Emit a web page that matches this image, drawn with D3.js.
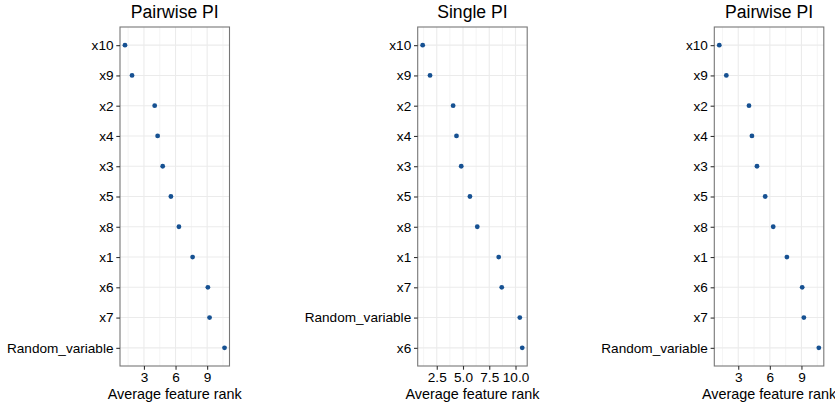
<!DOCTYPE html>
<html>
<head>
<meta charset="utf-8">
<script src="https://cdn.jsdelivr.net/npm/d3@7"></script>
<style>
  body { margin: 0; background: #fff; }
  svg { font-family: "Liberation Sans", Arial, sans-serif; }
</style>
</head>
<body>
<svg id="chart" width="835" height="406"></svg>
<script>
// data
var pairwiseFeatures = ["x10", "x9", "x2", "x4", "x3", "x5", "x8", "x1", "x6", "x7", "Random_variable"];
var pairwiseRank = [1.2, 1.87, 4.02, 4.3, 4.78, 5.56, 6.32, 7.62, 9.07, 9.23, 10.65];
var pairwiseTicks = [3, 6, 9];

var singleFeatures = ["x10", "x9", "x2", "x4", "x3", "x5", "x8", "x1", "x7", "Random_variable", "x6"];
var singleRank = [1.16, 1.86, 4.06, 4.38, 4.83, 5.66, 6.36, 8.4, 8.69, 10.41, 10.64];
var singleTicks = [2.5, 5, 7.5, 10];

var svg = d3.select("#chart");

// panel layout
var panelTop = 27, panelBottom = 366, panelW = 109.5;

function drawPanel(left, title, features, ranks, ticks, fmt) {
    var g = svg.append("g").attr("transform", `translate(${left},0)`);

    // ggplot style 5% expansion
    var ext = d3.extent(ranks);
    var pad = (ext[1] - ext[0]) * 0.05;
    var x = d3.scaleLinear()
        .domain([ext[0] - pad, ext[1] + pad])
        .range([0, panelW]);

    var y = d3.scalePoint()
        .domain(features)
        .range([panelTop, panelBottom])
        .padding(0.6);

    // minor grid
    var step = ticks[1] - ticks[0];
    var minor = ticks.map(t => t - step / 2);
    minor.push(ticks[ticks.length - 1] + step / 2);
    minor = minor.filter(m => m > x.domain()[0] && m < x.domain()[1]);

    g.selectAll(".minor")
        .data(minor)
        .enter()
        .append("line")
        .attr("x1", d => x(d)).attr("x2", d => x(d))
        .attr("y1", panelTop).attr("y2", panelBottom)
        .attr("stroke", "#ebebeb")
        .attr("stroke-width", 0.55);

    // major grid
    g.selectAll(".vmajor")
        .data(ticks)
        .enter()
        .append("line")
        .attr("x1", d => x(d)).attr("x2", d => x(d))
        .attr("y1", panelTop).attr("y2", panelBottom)
        .attr("stroke", "#ebebeb")
        .attr("stroke-width", 1.1);

    g.selectAll(".hmajor")
        .data(features)
        .enter()
        .append("line")
        .attr("x1", 0).attr("x2", panelW)
        .attr("y1", d => y(d)).attr("y2", d => y(d))
        .attr("stroke", "#ebebeb")
        .attr("stroke-width", 1.1);

    // points
    g.selectAll("circle")
        .data(features)
        .enter()
        .append("circle")
        .attr("cx", (d, i) => x(ranks[i]))
        .attr("cy", d => y(d))
        .attr("r", 2.4)
        .attr("fill", "#165192");

    // border
    g.append("rect")
        .attr("x", 0).attr("y", panelTop)
        .attr("width", panelW).attr("height", panelBottom - panelTop)
        .attr("fill", "none")
        .attr("stroke", "#777")
        .attr("stroke-width", 1.1);

    // axes
    var xAxis = d3.axisBottom(x).tickValues(ticks).tickFormat(fmt).tickSize(3.7).tickPadding(2.5);
    var xg = g.append("g")
        .attr("transform", `translate(0,${panelBottom})`)
        .call(xAxis);
    xg.select(".domain").remove();

    var yAxis = d3.axisLeft(y).tickSize(3.7).tickPadding(2.8);
    var yg = g.append("g").call(yAxis);
    yg.select(".domain").remove();

    [xg, yg].forEach(a => {
        a.selectAll(".tick line").attr("stroke", "#333").attr("stroke-width", 1.1);
        a.selectAll("text")
            .style("font-size", "13.6px")
            .style("font-family", "Liberation Sans, Arial, sans-serif")
            .attr("fill", "#000");
    });

    // title and axis label
    g.append("text")
        .attr("x", panelW / 2)
        .attr("y", 17.5)
        .attr("text-anchor", "middle")
        .style("font-size", "17.6px")
        .attr("fill", "#000")
        .text(title);

    g.append("text")
        .attr("x", panelW / 2)
        .attr("y", 398.5)
        .attr("text-anchor", "middle")
        .style("font-size", "14.4px")
        .attr("fill", "#000")
        .text("Average feature rank");
}

drawPanel(120, "Pairwise PI", pairwiseFeatures, pairwiseRank, pairwiseTicks, d3.format("d"));
drawPanel(417.7, "Single PI", singleFeatures, singleRank, singleTicks, d3.format(".1f"));
drawPanel(714.3, "Pairwise PI", pairwiseFeatures, pairwiseRank, pairwiseTicks, d3.format("d"));
</script>
</body>
</html>
